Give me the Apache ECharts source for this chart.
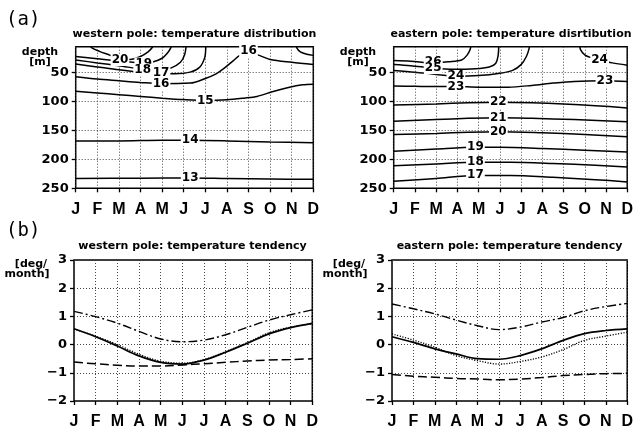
<!DOCTYPE html>
<html><head><meta charset="utf-8">
<script src="https://cdn.jsdelivr.net/npm/echarts@6/dist/echarts.min.js"></script>
<style>html,body{margin:0;padding:0;background:#fff}#c{width:636px;height:430px}</style>
</head><body><div id="c"></div>
<script>
const months = ['J','F','M','A','M','J','J','A','S','O','N','D'];
const depthTicks = [50,100,150,200,250];
const tendTicks = [-2,-1,0,1,2,3];

// western pole isotherms: [monthIndex, depth m]
const westC20 = [[0.6,0],[0.75,7],[1.1,13],[1.6,20],[2.05,27],[2.5,27],[3.0,22],[3.35,14],[3.55,6],[3.6,0]];
const westC19 = [[0,22],[1,26],[2,30],[3.1,33],[3.6,31],[4.0,25],[4.25,16],[4.4,7],[4.45,0]];
const westC18 = [[0,28],[1,33],[2,38],[3.1,44],[3.8,46],[4.4,42],[4.85,32],[5.05,18],[5.12,0]];
const westC17 = [[0,35],[1,40],[2,45],[3,49],[3.9,51],[4.6,52],[5.3,49],[5.75,40],[5.98,23],[6.02,8],[6.03,0]];
const westC16 = [[0,57],[1,61],[2,64],[3,67],[3.9,69],[5.3,68],[6.0,60],[6.5,52],[6.85,43],[7.3,29],[7.6,20],[8.0,15],[8.5,20],[9.0,27],[10,32],[11,36]];
const westC17b = [[10.2,0],[10.25,8],[10.4,14],[10.7,18],[11,20]];
const westC15 = [[0,82],[1,85],[2,88],[3,91],[4,94],[5,96.5],[6,98],[7,97],[7.8,94],[8.4,91],[9.1,83],[9.9,75],[10.5,71],[11,70]];
const westC14 = [[0,168],[2,168],[4,167],[5.3,167],[7,168],[9,170],[11,171]];
const westC13 = [[0,233],[3,232.5],[5.3,232],[7,233],[9,234],[11,234.5]];
const westLines = [westC20, westC19, westC18, westC17, westC16, westC17b, westC15, westC14, westC13];
const westLabels = [[2.05,28,'20'],[3.15,34,'19'],[3.1,45,'18'],[3.95,51,'17'],[3.95,70,'16'],[8.0,13,'16'],[6.0,98,'15'],[5.3,167,'14'],[5.3,232,'13']];

// eastern pole isotherms
const eastC26 = [[0,29],[0.8,30],[1.86,33],[2.6,31],[3.2,28],[3.45,20],[3.6,10],[3.65,0]];
const eastC25 = [[0,36],[0.8,38],[1.86,42],[2.8,44],[3.85,43],[4.5,40],[4.8,34],[4.92,20],[4.95,0]];
const eastC24 = [[0,46],[1,49],[2,53],[2.93,56],[4,55],[5,51],[5.6,46],[6.0,36],[6.25,22],[6.38,8],[6.4,0]];
const eastC24b = [[8.75,0],[8.8,10],[9.0,19],[9.3,24],[9.7,28],[10.3,33],[11,37]];
const eastC23 = [[0,73],[1,73.5],[2,74],[2.93,74],[4,75],[5.4,75],[6.5,72],[7.5,68],[8.5,65],[9.95,64],[11,65]];
const eastC22 = [[0,106],[2,104],[3.5,102],[4.93,101],[6.5,102],[8,104],[9.5,107],[11,111]];
const eastC21 = [[0,134],[2,131],[3.5,129],[4.93,128],[6.5,129],[8.5,131],[11,135]];
const eastC20 = [[0,157],[2,155],[3.5,153],[4.93,152],[7,154],[9,157],[11,161]];
const eastC19 = [[0,186],[2,182],[3.85,179],[5,179],[7,181],[9,184],[11,187]];
const eastC18 = [[0,211],[2,208],[3.85,205],[5.5,205],[7.5,207],[9.5,210],[11,213]];
const eastC17 = [[0,238],[2,233],[3.85,228],[5.5,228],[7.5,231],[9.5,235],[11,239]];
const eastLines = [eastC26, eastC25, eastC24, eastC24b, eastC23, eastC22, eastC21, eastC20, eastC19, eastC18, eastC17];
const eastLabels = [[1.86,32,'26'],[1.86,42,'25'],[2.93,56,'24'],[9.7,28,'24'],[2.93,74,'23'],[9.95,64,'23'],[4.93,101,'22'],[4.93,128,'21'],[4.93,152,'20'],[3.85,178,'19'],[3.85,204,'18'],[3.85,227,'17']];

// temperature tendency [deg/month]
const westDashDot = [1.18,0.99,0.76,0.47,0.2,0.1,0.16,0.35,0.61,0.87,1.06,1.23];
const westSolid   = [0.56,0.28,-0.05,-0.4,-0.63,-0.69,-0.55,-0.27,0.05,0.38,0.6,0.75];
const westDotted  = [0.55,0.3,0.0,-0.34,-0.59,-0.66,-0.53,-0.25,0.07,0.42,0.62,0.74];
const westDashed  = [-0.62,-0.68,-0.73,-0.76,-0.76,-0.72,-0.68,-0.63,-0.58,-0.55,-0.53,-0.5];
const eastDashDot = [1.44,1.27,1.09,0.87,0.67,0.53,0.62,0.8,0.96,1.2,1.35,1.46];
const eastSolid   = [0.28,0.08,-0.15,-0.33,-0.5,-0.52,-0.39,-0.15,0.15,0.39,0.5,0.56];
const eastDotted  = [0.38,0.16,-0.09,-0.39,-0.57,-0.69,-0.6,-0.44,-0.18,0.15,0.3,0.44];
const eastDashed  = [-1.06,-1.12,-1.16,-1.2,-1.22,-1.25,-1.22,-1.17,-1.1,-1.06,-1.03,-1.02];

const texts = {
  a: '(a)', b: '(b)',
  t1: 'western pole: temperature distribution',
  t2: 'eastern pole: temperature disrtibution',
  t3: 'western pole: temperature tendency',
  t4: 'eastern pole: temperature tendency',
  depth: 'depth', m: '[m]', deg: '[deg/', month: 'month]'
};

const BOLD = 'bold';
const FF = 'Liberation Sans';
const grids = [
  {left:75.7, top:46.7, width:237.6, height:141.6},
  {left:393.7, top:46.7, width:237.5, height:141.6},
  {left:74, top:260, width:238.3, height:141},
  {left:392, top:260, width:237.3, height:141}
].map(g => Object.assign(g, {show:true, borderColor:'#000', borderWidth:1.5, backgroundColor:'transparent', containLabel:false}));

const dotted = {color:'#333', width:0.9, type:[1,2]};

const xAxes = grids.map((g,i) => ({
  type:'value', gridIndex:i, min:0, max:11, interval:1,
  axisLine:{show:false, onZero:false},
  axisTick:{show:true, length:4, lineStyle:{color:'#000', width:1.3}},
  axisLabel:{formatter:v => months[v], fontSize:16, fontWeight:BOLD, fontFamily:FF, color:'#000', margin:13},
  splitLine:{show:true, lineStyle:dotted}
}));

const minusFmt = v => v < 0 ? '\u2212' + Math.abs(v) : String(v);
const yAxes = [0,1].map(i => ({
  type:'value', gridIndex:i, inverse:true, min:5, max:250,
  axisLine:{show:false, onZero:false},
  axisTick:{show:true, length:4, customValues:depthTicks, lineStyle:{color:'#000', width:1.3}},
  axisLabel:{customValues:depthTicks, fontSize:13, fontWeight:BOLD, fontFamily:'DejaVu Sans', color:'#000', margin:7},
  splitLine:{show:false}
})).concat([2,3].map(i => ({
  type:'value', gridIndex:i, min:-2, max:3, interval:1,
  axisLine:{show:false, onZero:false},
  axisTick:{show:true, length:4, lineStyle:{color:'#000', width:1.3}},
  axisLabel:{formatter:minusFmt, fontSize:13, fontWeight:BOLD, fontFamily:'DejaVu Sans', color:'#000', margin:7},
  splitLine:{show:true, lineStyle:dotted}
})));

const series = [];
function contourSet(lines, labels, gi){
  lines.forEach((ln, k) => {
    const s = {type:'line', xAxisIndex:gi, yAxisIndex:gi, data:ln, showSymbol:false, smooth:0.3,
      lineStyle:{color:'#000', width:1.5}, z:3, silent:true};
    if (k === 0) {
      s.markLine = {silent:true, symbol:['none','none'], label:{show:false}, lineStyle:dotted,
        data: depthTicks.slice(0,4).map(v => ({yAxis:v}))};
    }
    series.push(s);
  });
  series.push({type:'scatter', xAxisIndex:gi, yAxisIndex:gi, data:labels, symbolSize:1,
    itemStyle:{color:'#fff'}, z:10, silent:true,
    label:{show:true, position:'inside', formatter:p => p.value[2], fontSize:12, fontWeight:'bold', fontFamily:'DejaVu Sans',
      color:'#000', textBorderWidth:0, opacity:1, backgroundColor:'#fff', padding:[0,1]}});
}
contourSet(westLines, westLabels, 0);
contourSet(eastLines, eastLabels, 1);

const idx = months.map((_,i) => i);
function tendSet(dd, so, dt, da, gi){
  const mk = (vals, style) => ({type:'line', xAxisIndex:gi, yAxisIndex:gi, data:idx.map(i => [i, vals[i]]),
    showSymbol:false, smooth:0.35, lineStyle:Object.assign({color:'#000'}, style), silent:true, z:3});
  series.push(mk(dd, {width:1.4, type:[9,3,2,3]}));
  series.push(mk(da, {width:1.5, type:[9,4]}));
  series.push(mk(dt, {width:1.3, type:[1.2,1.5]}));
  series.push(mk(so, {width:1.7, type:'solid'}));
}
tendSet(westDashDot, westSolid, westDotted, westDashed, 2);
tendSet(eastDashDot, eastSolid, eastDotted, eastDashed, 3);

const TF = 'bold 11px "DejaVu Sans"';
function txt(x, y, s, opt){
  return {type:'text', x:x, y:y, silent:true, style:Object.assign({text:s, fill:'#000', align:'center', verticalAlign:'middle',
    font:TF}, opt||{})};
}
const graphic = [
  txt(6, 20, texts.a, {align:'left', font:'19px "DejaVu Sans Mono"'}),
  txt(6, 231, texts.b, {align:'left', font:'19px "DejaVu Sans Mono"'}),
  txt(194.5, 34, texts.t1), txt(511, 34, texts.t2),
  txt(192.5, 246, texts.t3), txt(509.5, 246, texts.t4),
  txt(40, 52, texts.depth), txt(40, 62.5, texts.m),
  txt(358, 52, texts.depth), txt(358, 62.5, texts.m),
  txt(31, 264, texts.deg), txt(27, 274.5, texts.month),
  txt(349, 264, texts.deg), txt(345, 274.5, texts.month)
];

const chart = echarts.init(document.getElementById('c'), null, {renderer:'canvas'});
chart.setOption({animation:false, backgroundColor:'#fff', grid:grids, xAxis:xAxes, yAxis:yAxes, series:series, graphic:graphic});
</script></body></html>
